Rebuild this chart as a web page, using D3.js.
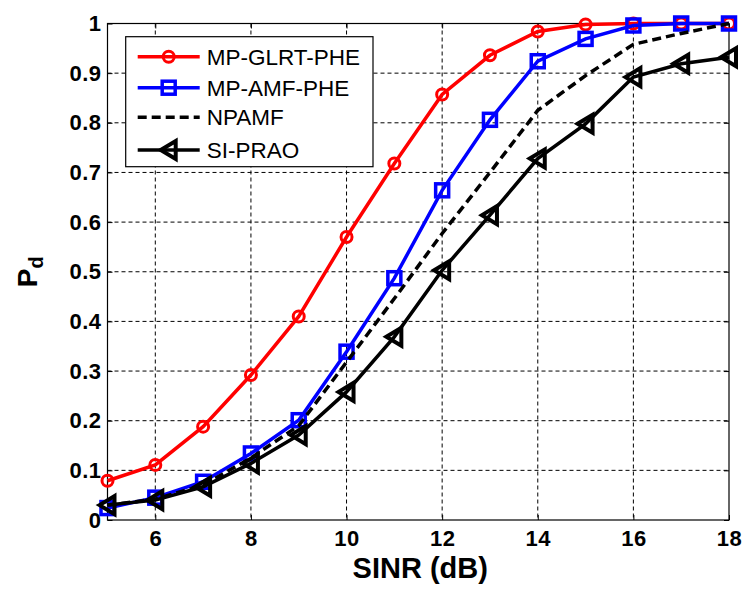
<!DOCTYPE html>
<html>
<head>
<meta charset="utf-8">
<script src="https://cdn.jsdelivr.net/npm/d3@7"></script>
<style>
  body { margin: 0; background: #fff; }
  text { font-family: "Liberation Sans", Arial, sans-serif; }
</style>
</head>
<body>
<div id="chart"></div>
<script>
// data
const sinr = [5, 6, 7, 8, 9, 10, 11, 12, 13, 14, 15, 16, 17, 18];
const glrtPhe = [0.079, 0.111, 0.188, 0.292, 0.41, 0.57, 0.718, 0.857, 0.936, 0.984, 0.998, 1.0, 1.0, 1.0];
const amfPhe = [0.024, 0.045, 0.077, 0.134, 0.201, 0.339, 0.487, 0.664, 0.806, 0.924, 0.969, 0.996, 1.0, 1.0];
const npamf = [0.03, 0.042, 0.07, 0.125, 0.19, 0.318, 0.446, 0.577, 0.70, 0.825, 0.895, 0.958, 0.98, 1.0];
const siPrao = [0.03, 0.04, 0.067, 0.114, 0.171, 0.258, 0.369, 0.503, 0.614, 0.728, 0.798, 0.892, 0.919, 0.932];
const xTicks = [6, 8, 10, 12, 14, 16, 18];
const yTicks = [0, 0.1, 0.2, 0.3, 0.4, 0.5, 0.6, 0.7, 0.8, 0.9, 1];
const seriesNames = ["MP-GLRT-PHE", "MP-AMF-PHE", "NPAMF", "SI-PRAO"];

const margin = { top: 23.5, right: 16, bottom: 75, left: 107.5 };
const width = 745 - margin.left - margin.right;
const height = 595 - margin.top - margin.bottom;

const svg = d3.select("#chart")
    .append("svg")
    .attr("width", 745)
    .attr("height", 595)
    .append("g")
    .attr("transform", `translate(${margin.left},${margin.top})`);

const x = d3.scaleLinear().domain([5, 18]).range([0, width]);
const y = d3.scaleLinear().domain([0, 1]).range([height, 0]);

// grid
svg.append("g").selectAll("line").data(xTicks.filter(d => d < 18)).join("line")
    .attr("x1", d => x(d)).attr("x2", d => x(d))
    .attr("y1", 0).attr("y2", height)
    .attr("stroke", "#000").attr("stroke-width", 1).attr("stroke-dasharray", "4,3");
svg.append("g").selectAll("line").data(yTicks.filter(d => d > 0 && d < 1)).join("line")
    .attr("x1", 0).attr("x2", width)
    .attr("y1", d => y(d)).attr("y2", d => y(d))
    .attr("stroke", "#000").attr("stroke-width", 1).attr("stroke-dasharray", "4,3");

// axes (ticks inside, MATLAB style)
const tickFont = g => g.selectAll("text")
    .attr("font-family", "'Liberation Sans', Arial, sans-serif")
    .attr("font-size", 22).attr("font-weight", "bold").attr("fill", "#000")
    .attr("letter-spacing", "0.5px");

svg.append("g")
    .attr("transform", `translate(0,${height})`)
    .call(d3.axisBottom(x).tickValues(xTicks).tickSize(-5).tickPadding(10).tickFormat(d3.format("d")))
    .call(g => g.select(".domain").remove())
    .call(tickFont);
svg.append("g")
    .call(d3.axisLeft(y).tickValues(yTicks).tickSize(-5).tickPadding(6)
        .tickFormat(d => d === 0 || d === 1 ? d : d3.format(".1f")(d)))
    .call(g => g.select(".domain").remove())
    .call(tickFont);
svg.append("g")
    .call(d3.axisTop(x).tickValues(xTicks).tickSize(-5).tickFormat(""))
    .call(g => g.select(".domain").remove());
svg.append("g")
    .attr("transform", `translate(${width},0)`)
    .call(d3.axisRight(y).tickValues(yTicks).tickSize(-5).tickFormat(""))
    .call(g => g.select(".domain").remove());

svg.append("rect")
    .attr("width", width).attr("height", height)
    .attr("fill", "none").attr("stroke", "#000").attr("stroke-width", 1.2);

// series
const line = d3.line().x((d, i) => x(sinr[i])).y(d => y(d));

const triPath = "M-8,0L7,-9L7,9Z";

function drawMarker(g, type, color) {
    if (type === "circle") {
        g.append("circle").attr("r", 5.5)
            .attr("fill", "none").attr("stroke", color).attr("stroke-width", 3);
    } else if (type === "square") {
        g.append("rect").attr("x", -6.5).attr("y", -6.5).attr("width", 13).attr("height", 13)
            .attr("fill", "none").attr("stroke", color).attr("stroke-width", 3.5);
    } else if (type === "tri") {
        g.append("path").attr("d", triPath)
            .attr("fill", "none").attr("stroke", color).attr("stroke-width", 4)
            .attr("stroke-linejoin", "miter");
    }
}

const series = [
    { values: glrtPhe, color: "#ff0000", dash: null, marker: "circle" },
    { values: amfPhe, color: "#0000ff", dash: null, marker: "square" },
    { values: npamf, color: "#000", dash: "9,5", marker: null },
    { values: siPrao, color: "#000", dash: null, marker: "tri" }
];

series.forEach(s => {
    svg.append("path")
        .datum(s.values)
        .attr("fill", "none")
        .attr("stroke", s.color)
        .attr("stroke-width", 3.5)
        .attr("stroke-dasharray", s.dash)
        .attr("d", line);
    if (s.marker) {
        s.values.forEach((v, i) => {
            const g = svg.append("g").attr("transform", `translate(${x(sinr[i])},${y(v)})`);
            drawMarker(g, s.marker, s.color);
        });
    }
});

// legend
const legend = svg.append("g").attr("transform", `translate(${125.7 - margin.left},${36.7 - margin.top})`);
legend.append("rect")
    .attr("width", 247.3).attr("height", 130)
    .attr("fill", "#fff").attr("stroke", "#000").attr("stroke-width", 1.2);
const rowY = [20, 51, 80.6, 113.3];
series.forEach((s, i) => {
    const row = legend.append("g").attr("transform", `translate(0,${rowY[i]})`);
    row.append("line")
        .attr("x1", 12).attr("x2", 74)
        .attr("stroke", s.color).attr("stroke-width", 3.5)
        .attr("stroke-dasharray", s.dash);
    if (s.marker) {
        drawMarker(row.append("g").attr("transform", "translate(43,0)"), s.marker, s.color);
    }
    row.append("text")
        .attr("x", 81).attr("dy", "0.36em")
        .attr("font-size", 22.5)
        .attr("fill", "#000")
        .text(seriesNames[i]);
});

// axis labels
svg.append("text")
    .attr("x", (x(10) + x(13)) / 2 + 2)
    .attr("y", height + 58)
    .attr("text-anchor", "middle")
    .attr("font-size", 29).attr("font-weight", "bold")
    .text("SINR (dB)");

const yl = svg.append("text")
    .attr("transform", `translate(${37 - margin.left},${y(0.5)}) rotate(-90)`)
    .attr("text-anchor", "middle")
    .attr("font-size", 28).attr("font-weight", "bold");
yl.append("tspan").text("P");
yl.append("tspan").attr("dy", 6).attr("font-size", 20).text("d");
</script>
</body>
</html>
